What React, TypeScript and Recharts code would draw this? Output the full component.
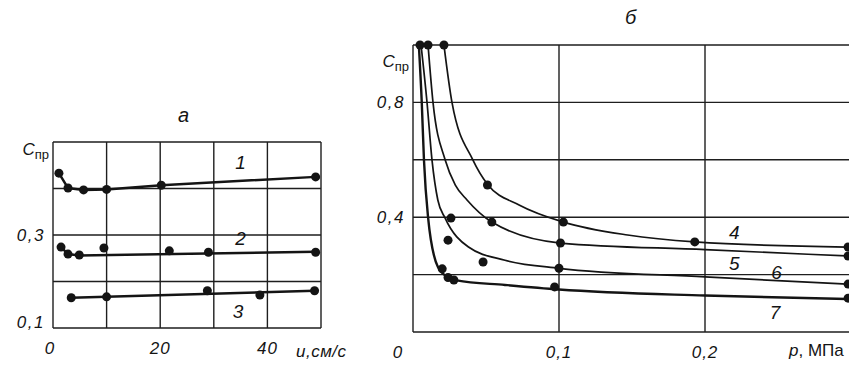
import {
  ComposedChart,
  Line,
  Scatter,
  XAxis,
  YAxis,
  CartesianGrid,
  ReferenceDot,
} from "recharts";

// panel а: C_пр vs u, cm/s
const uTicks = [0, 10, 20, 30, 40, 50];
const cTicksA = [0.1, 0.2, 0.3, 0.4, 0.5];
const uLabels: Record<number, string> = { 0: "0", 20: "20", 40: "40" };
const cLabelsA: Record<number, string> = { 0.1: "0,1", 0.3: "0,3" };

const line1 = [
  { x: 1.1, y: 0.433 },
  { x: 2.8, y: 0.401 },
  { x: 5.7, y: 0.397 },
  { x: 10, y: 0.398 },
  { x: 20.2, y: 0.407 },
  { x: 49, y: 0.425 },
];
const dots1 = line1;
const line2 = [
  { x: 1.5, y: 0.274 },
  { x: 2.8, y: 0.259 },
  { x: 4.9, y: 0.256 },
  { x: 49, y: 0.264 },
];
const dots2 = [
  { x: 1.5, y: 0.274 },
  { x: 2.8, y: 0.259 },
  { x: 4.9, y: 0.257 },
  { x: 9.5, y: 0.272 },
  { x: 21.7, y: 0.266 },
  { x: 29, y: 0.263 },
  { x: 49, y: 0.263 },
];
const line3 = [
  { x: 3.4, y: 0.165 },
  { x: 48.8, y: 0.18 },
];
const dots3 = [
  { x: 3.4, y: 0.165 },
  { x: 10, y: 0.167 },
  { x: 28.8, y: 0.18 },
  { x: 38.6, y: 0.171 },
  { x: 48.8, y: 0.18 },
];
const labelsA = [
  { x: 35, y: 0.457, text: "1" },
  { x: 35, y: 0.294, text: "2" },
  { x: 34.5, y: 0.137, text: "3" },
];

// panel б: C_пр vs p, MPa
const pTicks = [0, 0.1, 0.2, 0.3];
const cTicksB = [0, 0.2, 0.4, 0.6, 0.8, 1.0];
const pLabels: Record<number, string> = { 0: "0", 0.1: "0,1", 0.2: "0,2" };
const cLabelsB: Record<number, string> = { 0.4: "0,4", 0.8: "0,8" };

const curve4 = [
  { x: 0.0212, y: 1.0 },
  { x: 0.0267, y: 0.8 },
  { x: 0.041, y: 0.6 },
  { x: 0.051, y: 0.515 },
  { x: 0.073, y: 0.442 },
  { x: 0.103, y: 0.383 },
  { x: 0.147, y: 0.338 },
  { x: 0.193, y: 0.314 },
  { x: 0.297, y: 0.296 },
];
const curve5 = [
  { x: 0.0103, y: 1.0 },
  { x: 0.0137, y: 0.8 },
  { x: 0.022, y: 0.6 },
  { x: 0.029, y: 0.512 },
  { x: 0.037, y: 0.46 },
  { x: 0.054, y: 0.383 },
  { x: 0.101, y: 0.31 },
  { x: 0.2, y: 0.287 },
  { x: 0.297, y: 0.265 },
];
const curve6 = [
  { x: 0.0055, y: 1.0 },
  { x: 0.0096, y: 0.8 },
  { x: 0.013, y: 0.6 },
  { x: 0.017, y: 0.46 },
  { x: 0.022, y: 0.397 },
  { x: 0.038, y: 0.296 },
  { x: 0.063, y: 0.25 },
  { x: 0.1, y: 0.222 },
  { x: 0.2, y: 0.192 },
  { x: 0.297, y: 0.167 },
];
const curve7 = [
  { x: 0.004, y: 1.0 },
  { x: 0.006, y: 0.8 },
  { x: 0.0075, y: 0.6 },
  { x: 0.0103, y: 0.4 },
  { x: 0.017, y: 0.227 },
  { x: 0.024, y: 0.19 },
  { x: 0.03, y: 0.18 },
  { x: 0.063, y: 0.164 },
  { x: 0.1, y: 0.148 },
  { x: 0.2, y: 0.127 },
  { x: 0.297, y: 0.115 },
];
const dotsB = [
  { x: 0.0048, y: 1.0 },
  { x: 0.0103, y: 1.0 },
  { x: 0.0212, y: 1.0 },
  { x: 0.051, y: 0.512 },
  { x: 0.103, y: 0.383 },
  { x: 0.193, y: 0.314 },
  { x: 0.298, y: 0.296 },
  { x: 0.026, y: 0.397 },
  { x: 0.054, y: 0.383 },
  { x: 0.101, y: 0.31 },
  { x: 0.298, y: 0.265 },
  { x: 0.024, y: 0.32 },
  { x: 0.048, y: 0.244 },
  { x: 0.1, y: 0.222 },
  { x: 0.298, y: 0.167 },
  { x: 0.02, y: 0.22 },
  { x: 0.024, y: 0.19 },
  { x: 0.028, y: 0.181 },
  { x: 0.097, y: 0.157 },
  { x: 0.298, y: 0.118 },
];
const labelsB = [
  { x: 0.22, y: 0.348, text: "4" },
  { x: 0.22, y: 0.24, text: "5" },
  { x: 0.249, y: 0.209, text: "6" },
  { x: 0.248, y: 0.07, text: "7" },
];

const INK = "#141414";
const GRID = "#1e1e1e";
const FONT = "'Liberation Sans', Arial, sans-serif";

const Dot = (p: any) => <circle cx={p.cx} cy={p.cy} r={4.5} fill={INK} />;

const Cpr = ({ x, y }: { x: number; y: number }) => (
  <text x={x} y={y} fill={INK} fontSize={17} fontStyle="italic" textAnchor="end">
    <tspan>C</tspan>
    <tspan fontSize={13} fontStyle="normal" dy={4}>
      пр
    </tspan>
  </text>
);

function makeYTick(labels: Record<number, string>, top: number, topDy: number) {
  return (props: any) => {
    const v = Number(props.payload.value);
    const key = Object.keys(labels).find((k) => Math.abs(Number(k) - v) < 1e-6);
    if (Math.abs(v - top) < 1e-6) return <Cpr x={props.x + 4} y={props.y + topDy} />;
    if (key === undefined) return <g />;
    return (
      <text
        x={props.x}
        y={props.y}
        dy={labels[key as any] === "0,1" ? 0 : 6}
        fill={INK}
        fontSize={17}
        fontStyle="italic"
        letterSpacing={1.5}
        textAnchor="end"
      >
        {labels[key as any]}
      </text>
    );
  };
}

function makeXTick(labels: Record<number, string>, shiftZero: number) {
  return (props: any) => {
    const v = Number(props.payload.value);
    const key = Object.keys(labels).find((k) => Math.abs(Number(k) - v) < 1e-6);
    if (key === undefined) return <g />;
    return (
      <text
        x={props.x + (v === 0 ? shiftZero : 0)}
        y={props.y + 18}
        fill={INK}
        fontSize={17}
        fontStyle="italic"
        letterSpacing={1}
        textAnchor="middle"
      >
        {labels[key as any]}
      </text>
    );
  };
}

export default function App() {
  return (
    <div
      style={{
        position: "absolute",
        left: 0,
        top: 0,
        width: 849,
        height: 372,
        background: "#fff",
        overflow: "hidden",
        fontFamily: FONT,
        color: INK,
      }}
    >
      <div style={{ position: "absolute", left: 0, top: 0 }}>
        <ComposedChart width={340} height={372} margin={{ top: 142, right: 19, bottom: 0, left: 0 }}>
          <CartesianGrid stroke={GRID} strokeWidth={1.4} />
          <XAxis
            type="number"
            dataKey="x"
            domain={[0, 50]}
            ticks={uTicks}
            interval={0}
            height={44}
            axisLine={false}
            tickLine={false}
            tick={makeXTick(uLabels, -3)}
          />
          <YAxis
            type="number"
            dataKey="y"
            domain={[0.1, 0.5]}
            ticks={cTicksA}
            interval={0}
            width={53}
            axisLine={false}
            tickLine={false}
            tick={makeYTick(cLabelsA, 0.5, 13)}
          />
          <Line data={line1} dataKey="y" type="linear" stroke={INK} strokeWidth={2.5} dot={false} isAnimationActive={false} />
          <Line data={line2} dataKey="y" type="linear" stroke={INK} strokeWidth={2.5} dot={false} isAnimationActive={false} />
          <Line data={line3} dataKey="y" type="linear" stroke={INK} strokeWidth={2.5} dot={false} isAnimationActive={false} />
          <Scatter data={dots1} dataKey="y" shape={Dot} isAnimationActive={false} />
          <Scatter data={dots2} dataKey="y" shape={Dot} isAnimationActive={false} />
          <Scatter data={dots3} dataKey="y" shape={Dot} isAnimationActive={false} />
          {labelsA.map((l) => (
            <ReferenceDot
              key={l.text}
              x={l.x}
              y={l.y}
              r={0}
              stroke="none"
              label={{ value: l.text, position: "center", fill: INK, fontSize: 19, fontStyle: "italic" }}
            />
          ))}
        </ComposedChart>
      </div>
      <div style={{ position: "absolute", left: 178, top: 104, fontSize: 20, fontStyle: "italic" }}>а</div>
      <div style={{ position: "absolute", left: 296, top: 342, fontSize: 17, fontStyle: "italic", letterSpacing: 0.5 }}>
        u,см/с
      </div>

      <div style={{ position: "absolute", left: 355, top: 0 }}>
        <ComposedChart width={500} height={372} margin={{ top: 45, right: 4, bottom: 0, left: 0 }}>
          <CartesianGrid stroke={GRID} strokeWidth={1.4} />
          <XAxis
            type="number"
            dataKey="x"
            domain={[0, 0.3]}
            ticks={pTicks}
            interval={0}
            height={40}
            axisLine={false}
            tickLine={false}
            tick={makeXTick(pLabels, -15)}
          />
          <YAxis
            type="number"
            dataKey="y"
            domain={[0, 1]}
            ticks={cTicksB}
            interval={0}
            width={58}
            axisLine={false}
            tickLine={false}
            tick={makeYTick(cLabelsB, 1, 22)}
          />
          <Line data={curve4} dataKey="y" type="monotoneX" stroke={INK} strokeWidth={1.7} dot={false} isAnimationActive={false} />
          <Line data={curve5} dataKey="y" type="monotoneX" stroke={INK} strokeWidth={1.7} dot={false} isAnimationActive={false} />
          <Line data={curve6} dataKey="y" type="monotoneX" stroke={INK} strokeWidth={1.7} dot={false} isAnimationActive={false} />
          <Line data={curve7} dataKey="y" type="monotoneX" stroke={INK} strokeWidth={2.4} dot={false} isAnimationActive={false} />
          <Scatter data={dotsB} dataKey="y" shape={Dot} isAnimationActive={false} />
          {labelsB.map((l) => (
            <ReferenceDot
              key={l.text}
              x={l.x}
              y={l.y}
              r={0}
              stroke="none"
              label={{ value: l.text, position: "center", fill: INK, fontSize: 19, fontStyle: "italic" }}
            />
          ))}
        </ComposedChart>
      </div>
      <div style={{ position: "absolute", left: 625, top: 6, fontSize: 20, fontStyle: "italic" }}>б</div>
      <div style={{ position: "absolute", left: 789, top: 341, fontSize: 17 }}>
        <i>p</i>, МПа
      </div>
    </div>
  );
}
